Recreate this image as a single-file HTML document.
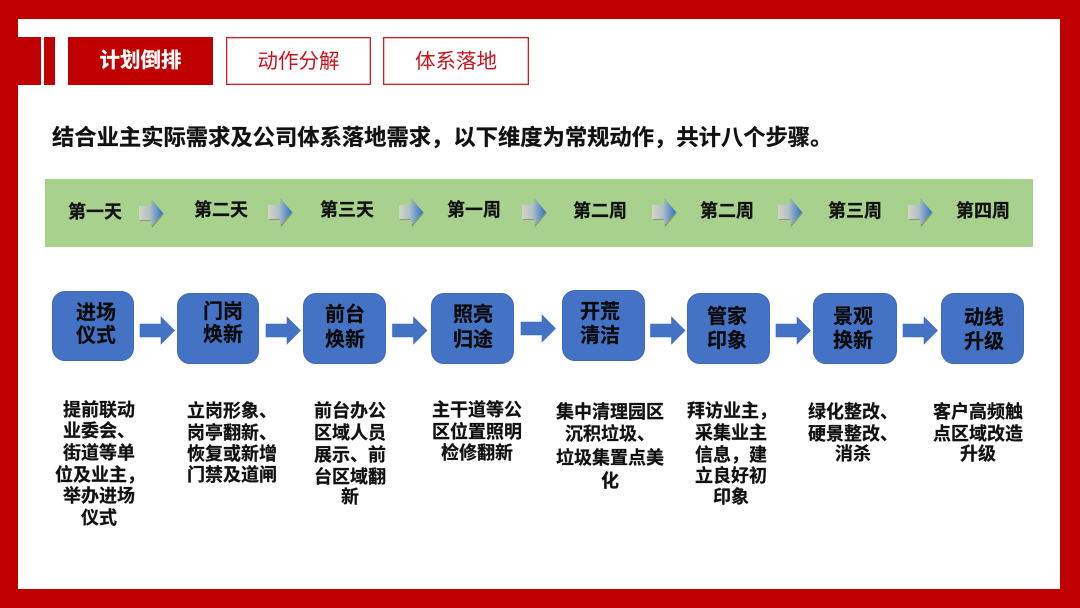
<!DOCTYPE html>
<html lang="zh"><head><meta charset="utf-8"><style>
html,body{margin:0;padding:0;background:#fff}
#p{position:relative;width:1080px;height:608px;overflow:hidden;background:#fff;font-family:"Liberation Sans","Noto Sans CJK SC",sans-serif}
.a{position:absolute}
.r{position:absolute;background:#c00000}
.tab{position:absolute;top:37px;height:48px;line-height:48px;text-align:center;font-size:20.5px;box-sizing:border-box}
.o{border:1px solid #c9202a;box-shadow:inset 0 0 0 .6px #e58a8f;color:#c8141c;background:#fff}
.w{position:absolute;width:90px;text-align:center;font-size:18px;font-weight:700;line-height:24px;height:24px;color:#111;white-space:nowrap;-webkit-text-stroke:.25px #111;filter:blur(.3px)}
.b{position:absolute;box-sizing:border-box;background:#4472c4;border:1px solid #3f6ab8;border-radius:13px}
.t{position:absolute;width:60px;text-align:center;font-size:20px;font-weight:700;line-height:24px;height:24px;color:#0a0a0a;white-space:nowrap;-webkit-text-stroke:.25px #0a0a0a;filter:blur(.3px)}
.l{position:absolute;width:130px;text-align:center;font-size:18px;font-weight:700;line-height:22px;height:22px;color:#111;white-space:nowrap;-webkit-text-stroke:.25px #111;filter:blur(.3px)}
svg{position:absolute;left:0;top:0}
</style></head><body><div id="p">
<div class="r" style="left:0;top:0;width:1080px;height:19px"></div>
<div class="r" style="left:0;top:589px;width:1080px;height:19px"></div>
<div class="r" style="left:0;top:0;width:18px;height:608px"></div>
<div class="r" style="left:1060px;top:0;width:20px;height:608px"></div>
<div class="r" style="left:18px;top:37px;width:23px;height:48px"></div>
<div class="r" style="left:44px;top:37px;width:11px;height:48px"></div>
<div class="tab" style="left:68px;width:145px;background:#c00000;color:#fff;font-weight:700;-webkit-text-stroke:.25px #fff">计划倒排</div>
<div class="tab o" style="left:226px;width:145px">动作分解</div>
<div class="tab o" style="left:383px;width:146px">体系落地</div>
<div class="a" style="left:52px;top:122px;width:800px;font-size:22.3px;line-height:32px;font-weight:700;color:#111;white-space:nowrap;-webkit-text-stroke:.25px #111;filter:blur(.3px)">结合业主实际需求及公司体系落地需求，以下维度为常规动作，共计八个步骤。</div>
<div class="a" style="left:45px;top:179px;width:988px;height:68px;background:#a9d18e"></div>
<div class="w" style="left:50px;top:200px">第一天</div>
<div class="w" style="left:176px;top:198px">第二天</div>
<div class="w" style="left:302px;top:198px">第三天</div>
<div class="w" style="left:429px;top:198px">第一周</div>
<div class="w" style="left:555px;top:199px">第二周</div>
<div class="w" style="left:682px;top:199px">第二周</div>
<div class="w" style="left:810px;top:199px">第三周</div>
<div class="w" style="left:938px;top:199px">第四周</div>
<svg width="1080" height="608" viewBox="0 0 1080 608">
<defs>
<linearGradient id="g" x1="0" x2="1" y1="0" y2="0"><stop offset="0" stop-color="#d2d5c4"/><stop offset=".45" stop-color="#afbfc6"/><stop offset="1" stop-color="#2a72c8"/></linearGradient>
<path id="s" d="M0 7H12V0L24 14 12 28V21H0Z"/>
<path id="m" d="M0 7H21V0L34.500 13.500 21 27V20H0Z" fill="#4472c4" stroke="#3f6ab8" stroke-width=".6"/>
</defs>
<g fill="#8f9a5c">
<use href="#s" x="140" y="200"/><use href="#s" x="269" y="199"/><use href="#s" x="400" y="199"/><use href="#s" x="523" y="199"/><use href="#s" x="653" y="199"/><use href="#s" x="779" y="199"/><use href="#s" x="909" y="199"/>
</g>
<g fill="url(#g)">
<use href="#s" x="139" y="199"/><use href="#s" x="268" y="198"/><use href="#s" x="399" y="198"/><use href="#s" x="522" y="198"/><use href="#s" x="652" y="198"/><use href="#s" x="778" y="198"/><use href="#s" x="908" y="198"/>
</g>
<use href="#m" x="140" y="317"/><use href="#m" x="266" y="317"/><use href="#m" x="392.500" y="317"/><use href="#m" x="521" y="315"/><use href="#m" x="650.500" y="317"/><use href="#m" x="776" y="317"/><use href="#m" x="903" y="317"/>
</svg>
<div class="b" style="left:52px;top:291px;width:82px;height:70px"></div>
<div class="b" style="left:177px;top:293px;width:82px;height:71px"></div>
<div class="b" style="left:303px;top:293px;width:83px;height:71px"></div>
<div class="b" style="left:431px;top:293px;width:83px;height:71px"></div>
<div class="b" style="left:562px;top:290px;width:83px;height:71px"></div>
<div class="b" style="left:687px;top:293px;width:83px;height:71px"></div>
<div class="b" style="left:813px;top:293px;width:84px;height:71px"></div>
<div class="b" style="left:941px;top:293px;width:83px;height:71px"></div>
<div class="t" style="left:66px;top:301px">进场</div><div class="t" style="left:66px;top:324px">仪式</div>
<div class="t" style="left:193px;top:300px">门岗</div><div class="t" style="left:193px;top:323px">焕新</div>
<div class="t" style="left:315px;top:303px">前台</div><div class="t" style="left:315px;top:328px">焕新</div>
<div class="t" style="left:443px;top:303px">照亮</div><div class="t" style="left:443px;top:328px">归途</div>
<div class="t" style="left:570px;top:300px">开荒</div><div class="t" style="left:570px;top:324px">清洁</div>
<div class="t" style="left:697px;top:305px">管家</div><div class="t" style="left:697px;top:329px">印象</div>
<div class="t" style="left:823px;top:305px">景观</div><div class="t" style="left:823px;top:329px">换新</div>
<div class="t" style="left:954px;top:306px">动线</div><div class="t" style="left:954px;top:330px">升级</div>
<div class="l" style="left:34px;top:399px">提前联动</div>
<div class="l" style="left:34px;top:420px">业委会、</div>
<div class="l" style="left:34px;top:442px">街道等单</div>
<div class="l" style="left:35px;top:464px">位及业主，</div>
<div class="l" style="left:34px;top:485px">举办进场</div>
<div class="l" style="left:34px;top:507px">仪式</div>
<div class="l" style="left:167px;top:400px">立岗形象、</div>
<div class="l" style="left:167px;top:422px">岗亭翻新、</div>
<div class="l" style="left:167px;top:443px">恢复或新增</div>
<div class="l" style="left:167px;top:464px">门禁及道闸</div>
<div class="l" style="left:285px;top:400px">前台办公</div>
<div class="l" style="left:285px;top:422px">区域人员</div>
<div class="l" style="left:285px;top:444px">展示、前</div>
<div class="l" style="left:285px;top:466px">台区域翻</div>
<div class="l" style="left:285px;top:486px">新</div>
<div class="l" style="left:412px;top:399px">主干道等公</div>
<div class="l" style="left:412px;top:421px">区位置照明</div>
<div class="l" style="left:412px;top:442px">检修翻新</div>
<div class="l" style="left:545px;top:401px">集中清理园区</div>
<div class="l" style="left:545px;top:423px">沉积垃圾、</div>
<div class="l" style="left:545px;top:447px">垃圾集置点美</div>
<div class="l" style="left:545px;top:470px">化</div>
<div class="l" style="left:667px;top:400px">拜访业主，</div>
<div class="l" style="left:666px;top:422px">采集业主</div>
<div class="l" style="left:666px;top:444px">信息，建</div>
<div class="l" style="left:666px;top:465px">立良好初</div>
<div class="l" style="left:666px;top:486px">印象</div>
<div class="l" style="left:788px;top:401px">绿化整改、</div>
<div class="l" style="left:788px;top:423px">硬景整改、</div>
<div class="l" style="left:788px;top:443px">消杀</div>
<div class="l" style="left:913px;top:401px">客户高频触</div>
<div class="l" style="left:913px;top:423px">点区域改造</div>
<div class="l" style="left:913px;top:443px">升级</div>
</div></body></html>
